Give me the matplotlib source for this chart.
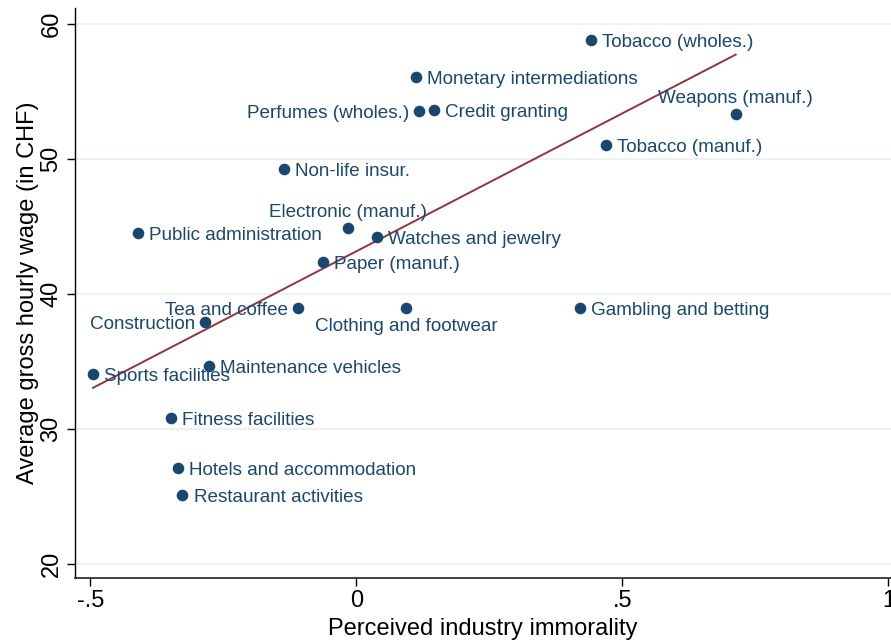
import matplotlib
matplotlib.use("Agg")
import matplotlib.pyplot as plt
import numpy as np

plt.rcParams['font.family'] = ['Liberation Sans', 'DejaVu Sans']

# industries: name, immorality, wage, label position
names = ["Tobacco (wholes.)", "Monetary intermediations", "Perfumes (wholes.)",
         "Credit granting", "Weapons (manuf.)", "Tobacco (manuf.)",
         "Non-life insur.", "Electronic (manuf.)", "Watches and jewelry",
         "Public administration", "Paper (manuf.)", "Tea and coffee",
         "Clothing and footwear", "Gambling and betting", "Construction",
         "Maintenance vehicles", "Sports facilities", "Fitness facilities",
         "Hotels and accommodation", "Restaurant activities"]
immorality = [0.441, 0.112, 0.118, 0.146, 0.713, 0.469,
              -0.136, -0.016, 0.039, -0.410, -0.063, -0.110,
              0.093, 0.420, -0.285, -0.277, -0.495, -0.348,
              -0.336, -0.327]
wage = [58.78, 56.04, 53.52, 53.60, 53.30, 51.00,
        49.23, 44.86, 44.20, 44.49, 42.35, 38.95,
        38.95, 38.95, 37.90, 34.65, 34.06, 30.78,
        27.08, 25.10]
label_pos = ["r", "r", "l", "r", "t", "r",
             "r", "t", "r", "r", "r", "l",
             "b", "r", "l", "r", "r", "r",
             "r", "r"]

navy = "#1a476f"
maroon = "#90353b"

fig = plt.figure(figsize=(8.91, 6.44), dpi=100)
ax = fig.add_axes([0.0842, 0.1025, 0.9158, 0.885])

x = np.array(immorality)
y = np.array(wage)

b, a = np.polyfit(x, y, 1)
xs = np.array([x.min(), x.max()])
ax.plot(xs, a + b * xs, color=maroon, lw=1.4, zorder=2)

ax.scatter(x, y, s=70, color=navy, zorder=3, linewidths=0)

offsets = {"r": ((8, -1.5), "left", "center"),
           "l": ((-7, -1.5), "right", "center"),
           "t": ((0, 11), "center", "center"),
           "b": ((0, -13), "center", "center")}
for n, xi, yi, p in zip(names, x, y, label_pos):
    off, ha, va = offsets[p]
    ax.annotate(n, (xi, yi), xytext=off, textcoords="offset points",
                ha=ha, va=va, fontsize=13.6, color=navy, zorder=4)

ax.set_xlim(-0.529, 1.005)
ax.set_ylim(18.96, 61.15)
ax.set_xticks([-0.5, 0, 0.5, 1])
ax.set_xticklabels(["-.5", "0", ".5", "1"])
ax.set_yticks([20, 30, 40, 50, 60])
ax.set_yticklabels(["20", "30", "40", "50", "60"], rotation=90, va="center")
ax.tick_params(labelsize=17, length=6, width=1, pad=3)

ax.grid(axis="y", color="#eaf2f3", lw=1.5)
ax.set_axisbelow(True)
for s in ["top", "right"]:
    ax.spines[s].set_visible(False)
ax.spines["left"].set_linewidth(1)
ax.spines["bottom"].set_linewidth(1.3)
ax.spines["bottom"].set_color("#333333")

ax.set_xlabel("Perceived industry immorality", fontsize=17, labelpad=4)
ax.set_ylabel("Average gross hourly wage (in CHF)", fontsize=17, labelpad=1)

fig.savefig("out.png", dpi=100)
